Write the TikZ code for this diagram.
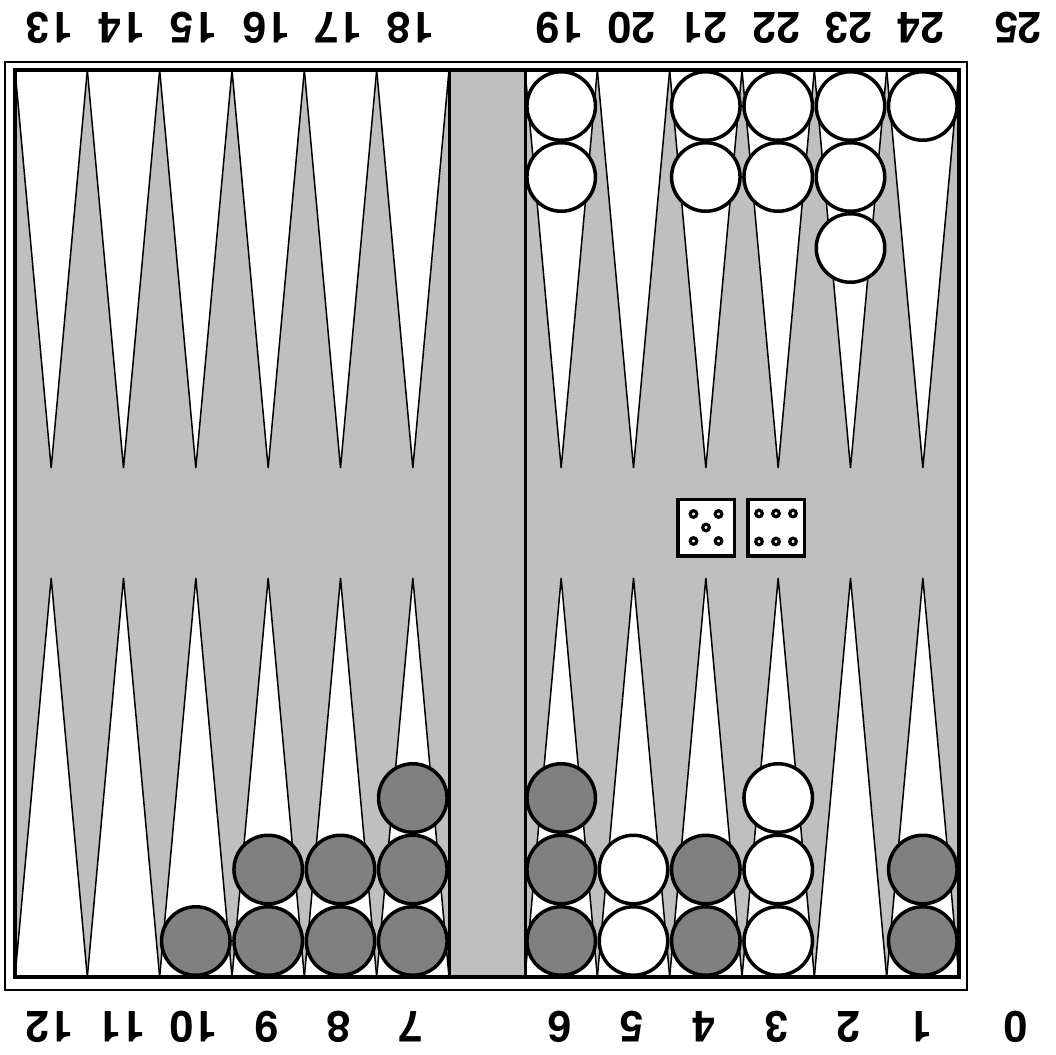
\documentclass[tikz,border=0pt]{standalone}
\usepackage{fontspec}
\setmainfont{Liberation Sans}
\newfontfamily\lblfont{texgyreheros}[Extension=.otf,UprightFont=*-bold,BoldFont=*-bold]
\definecolor{boardgray}{gray}{0.75}
\definecolor{darkchk}{gray}{0.5}
\begin{document}
\begin{tikzpicture}[x=1pt,y=-1pt,
  tri/.style={fill=white,draw=black,line width=1.5pt,line join=miter},
  chk/.style={circle,draw=black,line width=3.5pt,minimum size=68.5pt,inner sep=0pt},
  lbl/.style={font=\lblfont\fontsize{43}{50}\selectfont,rotate=180,inner sep=0pt},
  diebox/.style={draw=black,line width=3.5pt,fill=white,minimum size=56.5pt,inner sep=0pt},
  pip/.style={circle,draw=black,line width=3.2pt,fill=white,minimum size=6.6pt,inner sep=0pt},
  barbox/.style={draw=black,fill=boardgray,line width=3pt,inner sep=0pt}]
\useasboundingbox (0,0) rectangle (1056,1054);
\fill[white] (0,0) rectangle (1056,1054);
% outer frame
\draw[line width=2pt] (5,62) rectangle (967,990);
% board
\fill[boardgray] (15,70) rectangle (959,977);
% points
\foreach \i in {0,...,5} {
  \pgfmathsetmacro\xl{15+\i*72.333}
  \pgfmathsetmacro\xr{15+(\i+1)*72.333}
  \pgfmathsetmacro\xm{15+(\i+0.5)*72.333}
  \draw[tri] (\xl,70) -- (\xm,468) -- (\xr,70) -- cycle;
  \draw[tri] (\xl,977) -- (\xm,578) -- (\xr,977) -- cycle;
  \pgfmathsetmacro\yl{525+\i*72.333}
  \pgfmathsetmacro\yr{525+(\i+1)*72.333}
  \pgfmathsetmacro\ym{525+(\i+0.5)*72.333}
  \draw[tri] (\yl,70) -- (\ym,468) -- (\yr,70) -- cycle;
  \draw[tri] (\yl,977) -- (\ym,578) -- (\yr,977) -- cycle;
}
% bar
\node[barbox,minimum width=76pt,minimum height=907pt] (bar) at (487,523.5) {};
% inner border
\draw[line width=4pt] (15,70) rectangle (959,977);
% top checkers
\foreach \p/\x/\n/\f in {19/561.2/2/white,21/705.8/2/white,22/778.2/2/white,23/850.5/3/white,24/922.8/1/white} {
  \foreach \k in {1,...,\n} {
    \node[chk,fill=\f] (c\p-\k) at (\x,{106+(\k-1)*71}) {};
  }
}
% bottom checkers
\foreach \p/\x/\n/\f in {1/922.8/2/darkchk,3/778.2/3/white,4/705.8/2/darkchk,5/633.5/2/white,6/561.2/3/darkchk,7/412.8/3/darkchk,8/340.5/2/darkchk,9/268.2/2/darkchk,10/195.8/1/darkchk} {
  \foreach \k in {1,...,\n} {
    \node[chk,fill=\f] (c\p-\k) at (\x,{941-(\k-1)*71.5}) {};
  }
}
% dice
\node[diebox] (die5) at (706,527.5) {};
\node[diebox] (die6) at (776,527.5) {};
\foreach \dx/\dy [count=\j] in {-12.5/-13.5,12.5/-13.5,0/0,-12.5/13.5,12.5/13.5} {
  \node[pip] (pa\j) at ([shift={(\dx,\dy)}]die5.center) {};
}
\foreach \dx/\dy [count=\j] in {-17/-14,0/-14,17/-14,-17/14,0/14,17/14} {
  \node[pip] (pb\j) at ([shift={(\dx,\dy)}]die6.center) {};
}
% labels
\foreach \t/\x in {13/49.2,14/121.5,15/193.8,16/266.2,17/338.5,18/410.8,19/559.2,20/631.5,21/703.8,22/776.2,23/848.5,24/920.8,25/1018} {
  \node[lbl] (lt\t) at (\x,28) {\t};
}
\foreach \t/\x in {12/49.2,11/121.5,10/193.8,9/266.2,8/338.5,7/410.8,6/559.2,5/631.5,4/703.8,3/776.2,2/848.5,1/920.8,0/1016} {
  \node[lbl] (lb\t) at (\x,1027) {\t};
}
\end{tikzpicture}
\end{document}
